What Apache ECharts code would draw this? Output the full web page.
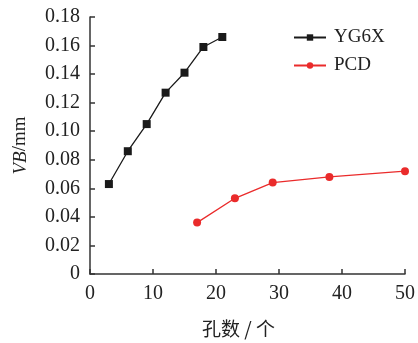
<!DOCTYPE html>
<html>
<head>
<meta charset="utf-8">
<script src="https://cdn.jsdelivr.net/npm/echarts@6/dist/echarts.min.js"></script>
<style>
  html, body { margin: 0; padding: 0; background: #fff; }
  #chart { width: 418px; height: 343px; }
</style>
</head>
<body>
<div id="chart"></div>
<script>
// 데이터
const seriesNames = ['YG6X', 'PCD']
const yg6xHoles = [3, 6, 9, 12, 15, 18, 21]
const yg6xVB = [0.063, 0.086, 0.105, 0.127, 0.141, 0.159, 0.166]
const pcdHoles = [17, 23, 29, 38, 50]
const pcdVB = [0.036, 0.053, 0.064, 0.068, 0.072]

const serif = '"Liberation Serif", "DejaVu Serif", serif'
const axisColor = '#333'

const chart = echarts.init(document.getElementById('chart'))

const option = {
  animation: false,
  backgroundColor: '#fff',
  grid: { left: 90, right: 9, top: 17, bottom: 64 },
  legend: {
    data: seriesNames,
    orient: 'vertical',
    left: 288,
    top: 23,
    itemWidth: 32,
    itemHeight: 8,
    itemGap: 9,
    textStyle: { fontFamily: serif, fontSize: 19, color: '#222', padding: [0, 0, 0, 3] }
  },
  xAxis: {
    type: 'value',
    min: 0,
    max: 50,
    interval: 10,
    name: '孔数 / 个',
    nameLocation: 'middle',
    nameGap: 45,
    nameTextStyle: { fontFamily: '"Noto Sans CJK SC", sans-serif', fontSize: 19, color: '#222', padding: [0, 18, 0, 0] },
    axisLine: { onZero: false, lineStyle: { color: axisColor, width: 1.5 } },
    axisTick: { inside: true, length: 5, lineStyle: { color: axisColor, width: 1.5 } },
    axisLabel: { fontFamily: serif, fontSize: 20, color: '#222', margin: 10 },
    splitLine: { show: false }
  },
  yAxis: {
    type: 'value',
    min: 0,
    max: 0.18,
    interval: 0.02,
    name: '{i|VB}/mm',
    nameLocation: 'middle',
    nameGap: 60,
    nameRotate: 90,
    nameTextStyle: {
      fontFamily: serif, fontSize: 19, color: '#222',
      rich: { i: { fontFamily: serif, fontSize: 19, fontStyle: 'italic', color: '#222' } }
    },
    axisLine: { show: true, lineStyle: { color: axisColor, width: 1.5 } },
    axisTick: { show: true, inside: true, length: 5, lineStyle: { color: axisColor, width: 1.5 } },
    axisLabel: {
      fontFamily: serif, fontSize: 20, color: '#222', margin: 10,
      formatter: v => (v === 0 ? '0' : v.toFixed(2))
    },
    splitLine: { show: false }
  },
  series: [
    {
      name: seriesNames[0],
      type: 'line',
      data: yg6xHoles.map((x, i) => [x, yg6xVB[i]]),
      symbol: 'rect',
      symbolSize: 8,
      itemStyle: { color: '#1a1a1a' },
      lineStyle: { color: '#1a1a1a', width: 1.3 }
    },
    {
      name: seriesNames[1],
      type: 'line',
      data: pcdHoles.map((x, i) => [x, pcdVB[i]]),
      symbol: 'circle',
      symbolSize: 8,
      itemStyle: { color: '#ea2b2b' },
      lineStyle: { color: '#ea2b2b', width: 1.3 }
    }
  ]
}

chart.setOption(option)
</script>
</body>
</html>
